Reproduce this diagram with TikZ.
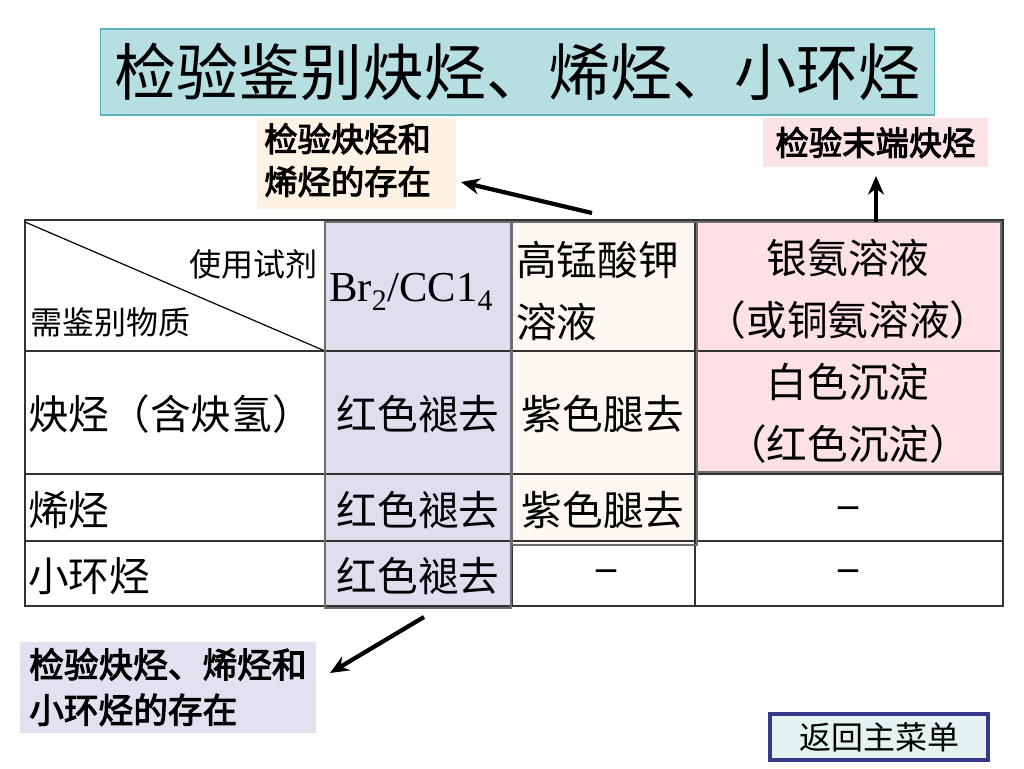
\documentclass[tikz,border=0pt]{standalone}
\usepackage{fontspec}
\setmainfont{Liberation Serif}
\newfontfamily\cjk{Noto Sans CJK SC}
\newfontfamily\cjkm[FakeBold=3]{Noto Sans CJK SC}
\usetikzlibrary{arrows.meta}
\definecolor{titlefill}{RGB}{183,222,224}
\definecolor{titleline}{RGB}{90,178,184}
\definecolor{creamcall}{RGB}{253,242,227}
\definecolor{creamcol}{RGB}{253,249,242}
\definecolor{pinkcall}{RGB}{252,228,230}
\definecolor{pinkcol}{RGB}{253,225,228}
\definecolor{lavcall}{RGB}{225,225,239}
\definecolor{lavcol}{RGB}{222,222,238}
\definecolor{btnfill}{RGB}{228,243,242}
\definecolor{btnline}{RGB}{56,56,138}
\definecolor{colline}{RGB}{110,110,110}
\tikzset{
  tbl/.style={font=\cjk\fontsize{30.5pt}{37pt}\selectfont, inner sep=0pt},
  hdr/.style={font=\cjk\fontsize{24pt}{29pt}\selectfont, inner sep=0pt},
  callout/.style={font=\cjkm\fontsize{25pt}{32pt}\selectfont, inner sep=0pt, align=left},
  colbox/.style={draw=colline, line width=0.9pt},
  grid/.style={draw=black!80, line width=1pt},
  dashcell/.style={font=\fontsize{30pt}{36pt}\selectfont\bfseries, inner sep=0pt},
  arr/.style={line width=3.2pt, -{Stealth[length=14pt,width=12pt]}}
}
\begin{document}
\begin{tikzpicture}[x=0.75pt,y=-0.75pt]
\useasboundingbox (0,0) rectangle (1024,768);
% title
\node[draw=titleline, fill=titlefill, line width=0.8pt, minimum width=626pt, minimum height=64.5pt, inner sep=0pt,
      font=\cjk\fontsize{46.5pt}{50pt}\selectfont] (title) at (517.5,72) {检验鉴别炔烃、烯烃、小环烃};
% callouts
\fill[creamcall] (257,118) rectangle (456,209);
\node[callout, anchor=north west] (cal1) at (264,123) {检验炔烃和\\烯烃的存在};
\node[fill=pinkcall, minimum width=169pt, minimum height=37pt, inner sep=0pt,
      font=\cjkm\fontsize{25pt}{30pt}\selectfont] (cal2) at (875.5,142.5) {检验末端炔烃};
\fill[lavcall] (20,642) rectangle (316,733);
\node[callout, anchor=north west, font=\cjkm\fontsize{26pt}{34pt}\selectfont] (cal3) at (29,648) {检验炔烃、烯烃和\\小环烃的存在};
% table background and coloured columns
\fill[white] (25,220) rectangle (1003,606);
\fill[lavcol] (325,222) rectangle (511,608);
\fill[creamcol] (512,222) rectangle (697,545);
\fill[pinkcol] (697,222) rectangle (1001,472);
% grid
\draw[grid] (25,220) rectangle (1003,606);
\draw[grid] (25,351) -- (1003,351);
\draw[grid] (25,474) -- (1003,474);
\draw[grid] (25,541) -- (1003,541);
\draw[grid] (325,220) -- (325,606);
\draw[grid] (512,220) -- (512,606);
\draw[grid] (695,220) -- (695,606);
\draw[line width=0.9pt] (25,222) -- (325,351);
% coloured column borders
\draw[colbox] (325,222) rectangle (511,608);
\draw[colbox] (512,222) rectangle (697,545);
\draw[colbox] (697,222) rectangle (1001,472);
% header
\node[hdr, anchor=east] (h1) at (318,264) {使用试剂};
\node[hdr, anchor=west] (h2) at (30,322) {需鉴别物质};
\node[inner sep=0pt, anchor=west, font=\fontsize{32pt}{36pt}\selectfont] (br) at (329,292) {Br$_{\mathrm{2}}$/CC1$_{\mathrm{4}}$};
\node[tbl, anchor=west] (k1) at (516,260) {高锰酸钾};
\node[tbl, anchor=west] (k2) at (516,322) {溶液};
\node[tbl] (ag1) at (848,258) {银氨溶液};
\node[tbl] (ag2) at (848,320) {（或铜氨溶液）};
% row 1
\node[tbl, anchor=west] (r1) at (28,414) {炔烃（含炔氢）};
\node[tbl] (r1a) at (418,414) {红色褪去};
\node[tbl] (r1b) at (603,414) {紫色腿去};
\node[tbl] (r1c) at (848,382) {白色沉淀};
\node[tbl] (r1d) at (848,444) {（红色沉淀）};
% row 2
\node[tbl, anchor=west] (r2) at (28,510) {烯烃};
\node[tbl] (r2a) at (418,510) {红色褪去};
\node[tbl] (r2b) at (603,510) {紫色腿去};
\node[dashcell] (r2c) at (848,512) {–};
% row 3
\node[tbl, anchor=west] (r3) at (28,576) {小环烃};
\node[tbl] (r3a) at (418,576) {红色褪去};
\node[dashcell] (r3b) at (606,575) {–};
\node[dashcell] (r3c) at (848,575) {–};
% arrows
\coordinate (t1) at (592,213);
\coordinate (e1) at (461,182);
\draw[arr] (t1) -- (e1);
\coordinate (t2) at (876,222);
\coordinate (e2) at (876,176);
\draw[arr] (t2) -- (e2);
\coordinate (t3) at (424,617);
\coordinate (e3) at (330,673);
\draw[arr] (t3) -- (e3);
% return button
\node[draw=btnline, fill=btnfill, line width=2.4pt, minimum width=163.5pt, minimum height=34.5pt, inner sep=0pt,
      font=\cjk\fontsize{24pt}{28pt}\selectfont] (btn) at (879,737) {返回主菜单};
\end{tikzpicture}
\end{document}
